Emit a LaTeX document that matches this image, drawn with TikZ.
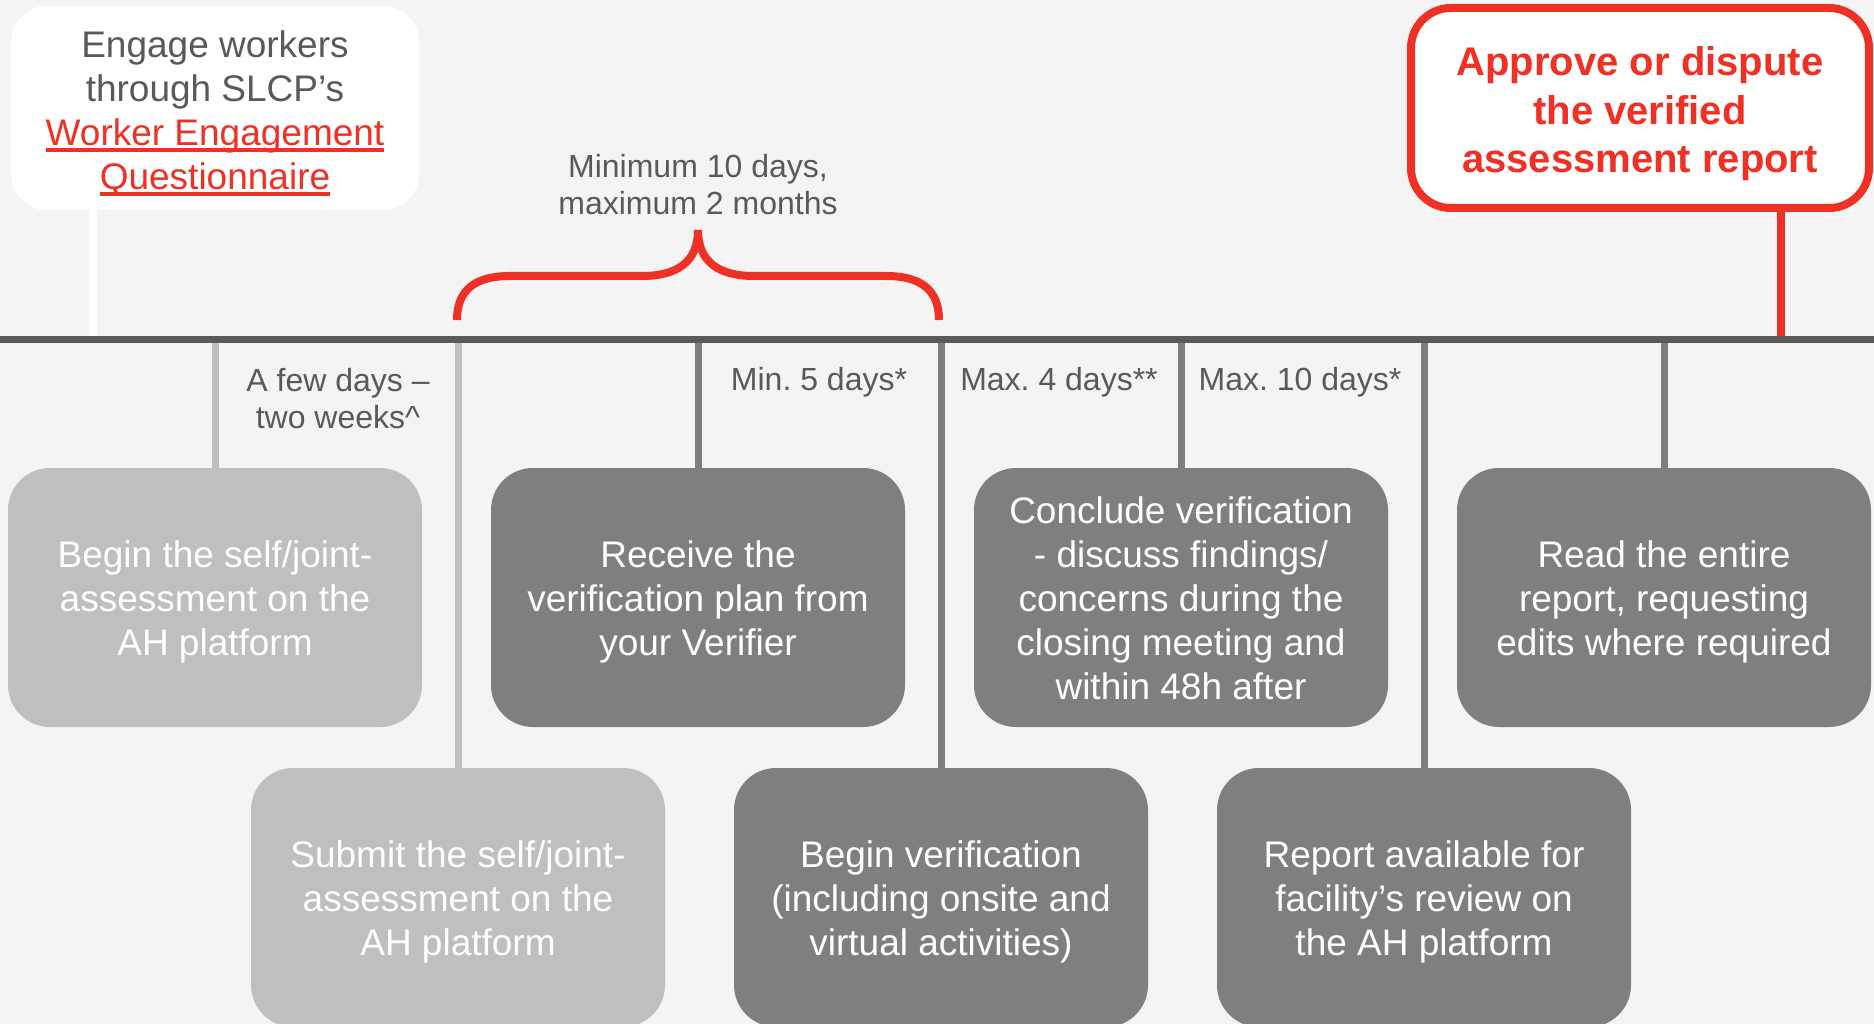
\documentclass[tikz,border=0pt]{standalone}
\usepackage{fontspec}
\setmainfont{Liberation Sans}
\frenchspacing
\definecolor{bg}{HTML}{F4F4F4}
\definecolor{txtgray}{HTML}{595959}
\definecolor{linegray}{HTML}{5A5A5A}
\definecolor{lightbox}{HTML}{BFBFBF}
\definecolor{darkbox}{HTML}{7F7F7F}
\definecolor{slcpred}{HTML}{EE3124}
\newcommand{\redul}[1]{\setbox0\hbox{#1}\rlap{\rule[-0.15em]{\wd0}{0.09em}}\box0}
\newcommand{\topstrut}[1]{\rule{0pt}{#1}}
\newcommand{\botstrut}[1]{\rule[-#1]{0pt}{#1}}
\tikzset{
  stepbox/.style={rectangle, rounded corners=42pt, minimum width=414pt, minimum height=259pt,
    text=white, align=center, font=\fontsize{37}{44}\selectfont, inner sep=0pt},
  lightstep/.style={stepbox, fill=lightbox},
  darkstep/.style={stepbox, fill=darkbox},
  durlabel/.style={text=txtgray, align=center, font=\fontsize{32}{37}\selectfont, inner sep=0pt},
  lighttick/.style={draw=lightbox, line width=7pt},
  darktick/.style={draw=darkbox, line width=7pt},
  mainline/.style={draw=linegray, line width=7pt},
  redline/.style={draw=slcpred, line width=8pt},
}
\begin{document}
\begin{tikzpicture}[x=1pt,y=-1pt]
\useasboundingbox (0,0) rectangle (1874,1024);
\fill[bg] (0,0) rectangle (1874,1024);

% top callouts
\node[rectangle, rounded corners=36pt, fill=white, minimum width=408pt, minimum height=204pt,
  inner sep=0pt, align=center, text=txtgray, font=\fontsize{37}{44}\selectfont]
  (engage) at (215,108) {\topstrut{40pt}Engage workers\\through SLCP’s\\{\color{slcpred}\redul{Worker Engagement}}\\{\color{slcpred}\redul{Questionnaire}}\botstrut{8pt}};
\node[rectangle, rounded corners=40pt, fill=white, draw=slcpred, line width=8pt,
  minimum width=458pt, minimum height=200pt, inner sep=0pt, align=center, text=slcpred,
  font=\bfseries\fontsize{40}{48.4}\selectfont]
  (approve) at (1640,108) {\topstrut{41pt}Approve or dispute\\the verified\\assessment report\botstrut{8.4pt}};

% steps
\node[lightstep] (b1) at (215,597.5) {\topstrut{36pt}Begin the self/joint-\\assessment on the\\AH platform\botstrut{8pt}};
\node[darkstep]  (b3) at (698,597.5) {\topstrut{36pt}Receive the\\verification plan from\\your Verifier\botstrut{8pt}};
\node[darkstep]  (b5) at (1181,597.5) {\topstrut{36pt}Conclude verification\\- discuss findings/\\concerns during the\\closing meeting and\\within 48h after\botstrut{8pt}};
\node[darkstep]  (b7) at (1664,597.5) {\topstrut{36pt}Read the entire\\report, requesting\\edits where required\botstrut{8pt}};
\node[lightstep] (b2) at (458,897.5) {\topstrut{36pt}Submit the self/joint-\\assessment on the\\AH platform\botstrut{8pt}};
\node[darkstep]  (b4) at (941,897.5) {\topstrut{36pt}Begin verification\\(including onsite and\\virtual activities)\botstrut{8pt}};
\node[darkstep]  (b6) at (1424,897.5) {\topstrut{36pt}Report available for\\facility’s review on\\the AH platform\botstrut{8pt}};

% timeline
\coordinate (L) at (0,339);
\coordinate (R) at (1874,339);
\coordinate (wstem) at (93,339);
\coordinate (rstem) at (1781,339);

\draw[draw=white, line width=8pt] (wstem |- engage.south) -- (wstem);
\draw[redline] (rstem |- approve.south) -- (rstem);

\draw[lighttick] (b1.north |- L) -- (b1.north);
\draw[lighttick] (b2.north |- L) -- (b2.north);
\draw[darktick] (b3.north |- L) -- (b3.north);
\draw[darktick] (b4.north |- L) -- (b4.north);
\draw[darktick] (b5.north |- L) -- (b5.north);
\draw[darktick] (b6.north |- L) -- (b6.north);
\draw[darktick] (b7.north |- L) -- (b7.north);

\draw[mainline] (L) -- (R);

% brace
\draw[redline] (457,320) .. controls (457,290) and (475,276) .. (510,276) -- (642,276)
  .. controls (677,276) and (698,262) .. (698,230)
  .. controls (698,262) and (719,276) .. (754,276) -- (886,276)
  .. controls (921,276) and (939,290) .. (939,320);
\node[durlabel] (brace) at (698,185) {Minimum 10 days,\\maximum 2 months};

% durations
\node[durlabel] (d1) at (338,399) {A few days –\\two weeks\^{}};
\node[durlabel] (d2) at (819,382) {Min. 5 days*};
\node[durlabel] (d3) at (1059,382) {Max. 4 days**};
\node[durlabel] (d4) at (1300,382) {Max. 10 days*};
\end{tikzpicture}
\end{document}
